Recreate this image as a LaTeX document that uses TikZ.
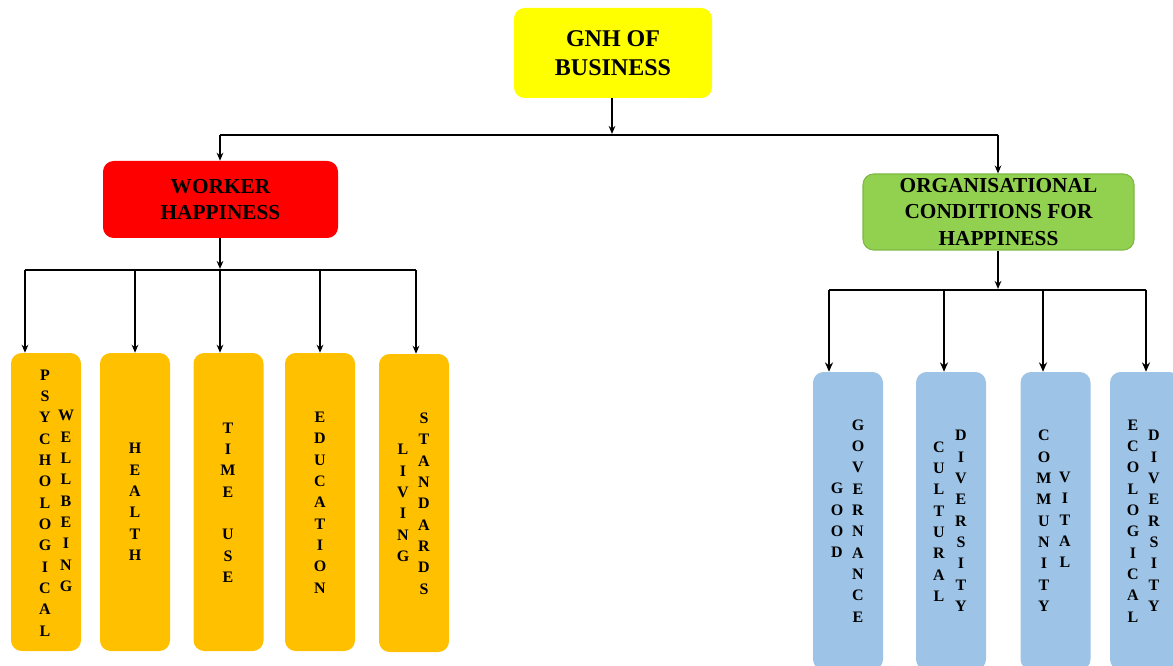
\documentclass[tikz,border=0pt]{standalone}
\usepackage{fontspec}
\setmainfont{Liberation Serif}
\usetikzlibrary{arrows.meta}
\definecolor{cyel}{HTML}{FFFF00}
\definecolor{cred}{HTML}{FF0000}
\definecolor{cgrn}{HTML}{92D050}
\definecolor{cgrnb}{HTML}{7DB843}
\definecolor{corg}{HTML}{FFC000}
\definecolor{cblu}{HTML}{9DC3E6}
\begin{document}
\begin{tikzpicture}[x=0.75pt,y=-0.75pt,
  mainbox/.style={rounded corners=8pt, inner sep=0pt, align=center, font=\bfseries},
  tallbox/.style={rounded corners=8pt, inner sep=0pt, minimum width=52.5pt, minimum height=223.5pt},
  vtext/.style={inner sep=0pt, align=center, font=\fontsize{12}{16}\selectfont\bfseries},
  thinarr/.style={line width=1pt, -{Stealth[length=6pt,width=5pt]}},
  medarr/.style={line width=1.2pt, -{Stealth[length=6pt,width=5pt]}},
  thickarr/.style={line width=1.8pt, -{Stealth[length=7pt,width=6pt]}},
  busline/.style={line width=1.6pt},
  busthick/.style={line width=1.9pt}]
\useasboundingbox (0,0) rectangle (1173,666);
\clip (0,0) rectangle (1173,666);

% main boxes
\node[mainbox, fill=cyel, minimum width=148.5pt, minimum height=67.5pt,
  font=\fontsize{18}{21.75}\selectfont\bfseries] (gnh) at (613,53) {GNH OF\\BUSINESS};
\node[mainbox, fill=cred, minimum width=176.25pt, minimum height=57.75pt,
  font=\fontsize{16}{19.5}\selectfont\bfseries] (wh) at (220.5,199.5) {WORKER\\HAPPINESS};
\node[mainbox, fill=cgrn, draw=cgrnb, line width=0.8pt, minimum width=203.25pt, minimum height=57pt,
  font=\fontsize{16}{20}\selectfont\bfseries] (oc) at (998.5,212) {ORGANISATIONAL\\CONDITIONS FOR\\HAPPINESS};

% orange boxes
\node[tallbox, fill=corg] (o1) at (46,502) {};
\node[tallbox, fill=corg] (o2) at (135,502) {};
\node[tallbox, fill=corg] (o3) at (228.5,502) {};
\node[tallbox, fill=corg] (o4) at (320,502) {};
\node[tallbox, fill=corg] (o5) at (414,503) {};

% blue boxes
\node[tallbox, fill=cblu] (b1) at (848,521) {};
\node[tallbox, fill=cblu] (b2) at (951,521) {};
\node[tallbox, fill=cblu] (b3) at (1055.5,521) {};
\node[tallbox, fill=cblu] (b4) at (1145,521) {};

% orange texts
\node[vtext] (t1a) at (45,503) {P\\S\\Y\\C\\H\\O\\L\\O\\G\\I\\C\\A\\L};
\node[vtext] (t1b) at (66,501) {W\\E\\L\\L\\B\\E\\I\\N\\G};
\node[vtext] (t2) at (135,502) {H\\E\\A\\L\\T\\H};
\node[vtext] (t3) at (228,502.5) {T\\I\\M\\E\\[16pt]U\\S\\E};
\node[vtext] (t4) at (320,502.5) {E\\D\\U\\C\\A\\T\\I\\O\\N};
\node[vtext] (t5a) at (403,503) {L\\I\\V\\I\\N\\G};
\node[vtext] (t5b) at (424,503.5) {S\\T\\A\\N\\D\\A\\R\\D\\S};

% blue texts
\node[vtext] (u1a) at (837,520.5) {G\\O\\O\\D};
\node[vtext] (u1b) at (858,521) {G\\O\\V\\E\\R\\N\\A\\N\\C\\E};
\node[vtext] (u2a) at (939,521.5) {C\\U\\L\\T\\U\\R\\A\\L};
\node[vtext] (u2b) at (961,521) {D\\I\\V\\E\\R\\S\\I\\T\\Y};
\node[vtext] (u3a) at (1044,521) {C\\O\\M\\M\\U\\N\\I\\T\\Y};
\node[vtext] (u3b) at (1065,520) {V\\I\\T\\A\\L};
\node[vtext] (u4a) at (1133,521) {E\\C\\O\\L\\O\\G\\I\\C\\A\\L};
\node[vtext] (u4b) at (1154,521) {D\\I\\V\\E\\R\\S\\I\\T\\Y};

% top level connectors
\coordinate (j0) at (612,135);
\coordinate (jl) at (220,135);
\coordinate (jr) at (998,135);
\draw[thinarr] (gnh.south -| j0) -- ([yshift=0.8pt]j0);
\draw[busline] (jl) -- (jr);
\draw[thinarr] (jl) -- (jl |- wh.north);
\draw[thinarr] (jr) -- (jr |- oc.north);

% left bus
\coordinate (lj) at (220,270);
\coordinate (l1) at (25,270);
\coordinate (l2) at (135,270);
\coordinate (l3) at (220,270);
\coordinate (l4) at (320,270);
\coordinate (l5) at (416,270);
\draw[thinarr] (wh.south -| lj) -- ([yshift=0.8pt]lj);
\draw[busline] (l1) -- (l5);
\draw[medarr] (l1) -- (l1 |- o1.north);
\draw[medarr] (l2) -- (l2 |- o2.north);
\draw[medarr] (l3) -- (l3 |- o3.north);
\draw[medarr] (l4) -- (l4 |- o4.north);
\draw[medarr] (l5) -- (l5 |- o5.north);

% right bus
\coordinate (rj) at (998,290);
\coordinate (r1) at (829,290);
\coordinate (r2) at (944,290);
\coordinate (r3) at (1043,290);
\coordinate (r4) at (1146,290);
\draw[thinarr] (oc.south -| rj) -- ([yshift=0.8pt]rj);
\draw[busthick] (r1) -- (r4);
\draw[thickarr] (r1) -- (r1 |- b1.north);
\draw[thickarr] (r2) -- (r2 |- b2.north);
\draw[thickarr] (r3) -- (r3 |- b3.north);
\draw[thickarr] (r4) -- (r4 |- b4.north);
\end{tikzpicture}
\end{document}
